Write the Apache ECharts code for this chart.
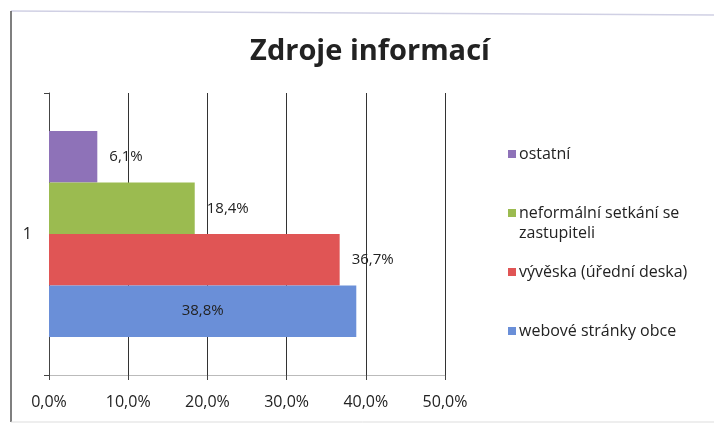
<!DOCTYPE html>
<html><head><meta charset="utf-8">
<script src="https://cdn.jsdelivr.net/npm/echarts@6/dist/echarts.min.js"></script>
<style>html,body{margin:0;padding:0;background:#fff}#c{width:714px;height:425px}</style>
</head><body><div id="c"></div>
<script>
const categories = ['1'];
const seriesNames = ['ostatní', 'neformální setkání se\nzastupiteli', 'vývěska (úřední deska)', 'webové stránky obce'];
const seriesValues = [[6.1], [18.4], [36.7], [38.8]];
const seriesColors = ['#8e72b8', '#9bbb50', '#e05555', '#6a8fd8'];
const labelPositions = ['right', 'right', 'right', 'inside'];
const xTickLabels = ['0,0%', '10,0%', '20,0%', '30,0%', '40,0%', '50,0%'];

const chart = echarts.init(document.getElementById('c'));
const font = '"Open Sans", Lato, sans-serif';
const legendTops = [139, 198, 257, 316];
const legends = seriesNames.map((n, i) => ({
  orient: 'vertical', left: 503, top: legendTops[i], itemWidth: 8,
  itemHeight: i === 1 ? 28 : 8, itemGap: 0,
  icon: i === 1 ? 'path://M0,0L8,0L8,8L0,8Z M0,28L0.01,28L0.01,27.99Z' : 'rect',
  textStyle: { fontFamily: font, fontSize: 16, color: '#222', lineHeight: 20, padding: [0, 0, 0, -2] },
  data: [n]
}));
chart.setOption({
  animation: false,
  title: { text: 'Zdroje informací', left: 365, top: 32, textAlign: 'center',
    textStyle: { fontFamily: font, fontSize: 29, fontWeight: 'bold', color: '#222' } },
  grid: { left: 49, right: 269, top: 93, bottom: 50 },
  legend: legends,
  xAxis: {
    type: 'value', min: 0, max: 50, interval: 10,
    axisLine: { show: true, lineStyle: { color: '#bbb' } },
    axisTick: { show: true, length: 5, lineStyle: { color: '#444' } },
    splitLine: { show: true, lineStyle: { color: '#333', width: 1 } },
    axisLabel: { fontFamily: font, fontSize: 16, color: '#222', margin: 19,
      formatter: (v) => xTickLabels[Math.round(v / 10)] }
  },
  yAxis: {
    type: 'category', data: categories,
    axisLine: { show: true, lineStyle: { color: '#444' } },
    axisTick: { show: true, length: 5, lineStyle: { color: '#444' } },
    axisLabel: { fontFamily: font, fontSize: 16, color: '#222', margin: 17 }
  },
  series: seriesNames.map((n, i) => ({
    name: n, type: 'bar', data: seriesValues[i],
    barGap: '0%', barCategoryGap: '27%',
    itemStyle: { color: seriesColors[i] },
    label: { show: true, position: labelPositions[i], distance: 12,
      fontFamily: font, fontSize: 15, color: '#222',
      formatter: (p) => p.value.toFixed(1).replace('.', ',') + '%' }
  })),
  graphic: [
    { type: 'line', shape: { x1: 11, y1: 11, x2: 714, y2: 15 }, style: { stroke: '#d0d0e4', lineWidth: 1.5 } },
    { type: 'line', shape: { x1: 11, y1: 11, x2: 11, y2: 422 }, style: { stroke: '#555', lineWidth: 1.5 } },
    { type: 'line', shape: { x1: 11, y1: 422, x2: 714, y2: 422 }, style: { stroke: '#ddd', lineWidth: 1 } }
  ]
});
</script></body></html>
